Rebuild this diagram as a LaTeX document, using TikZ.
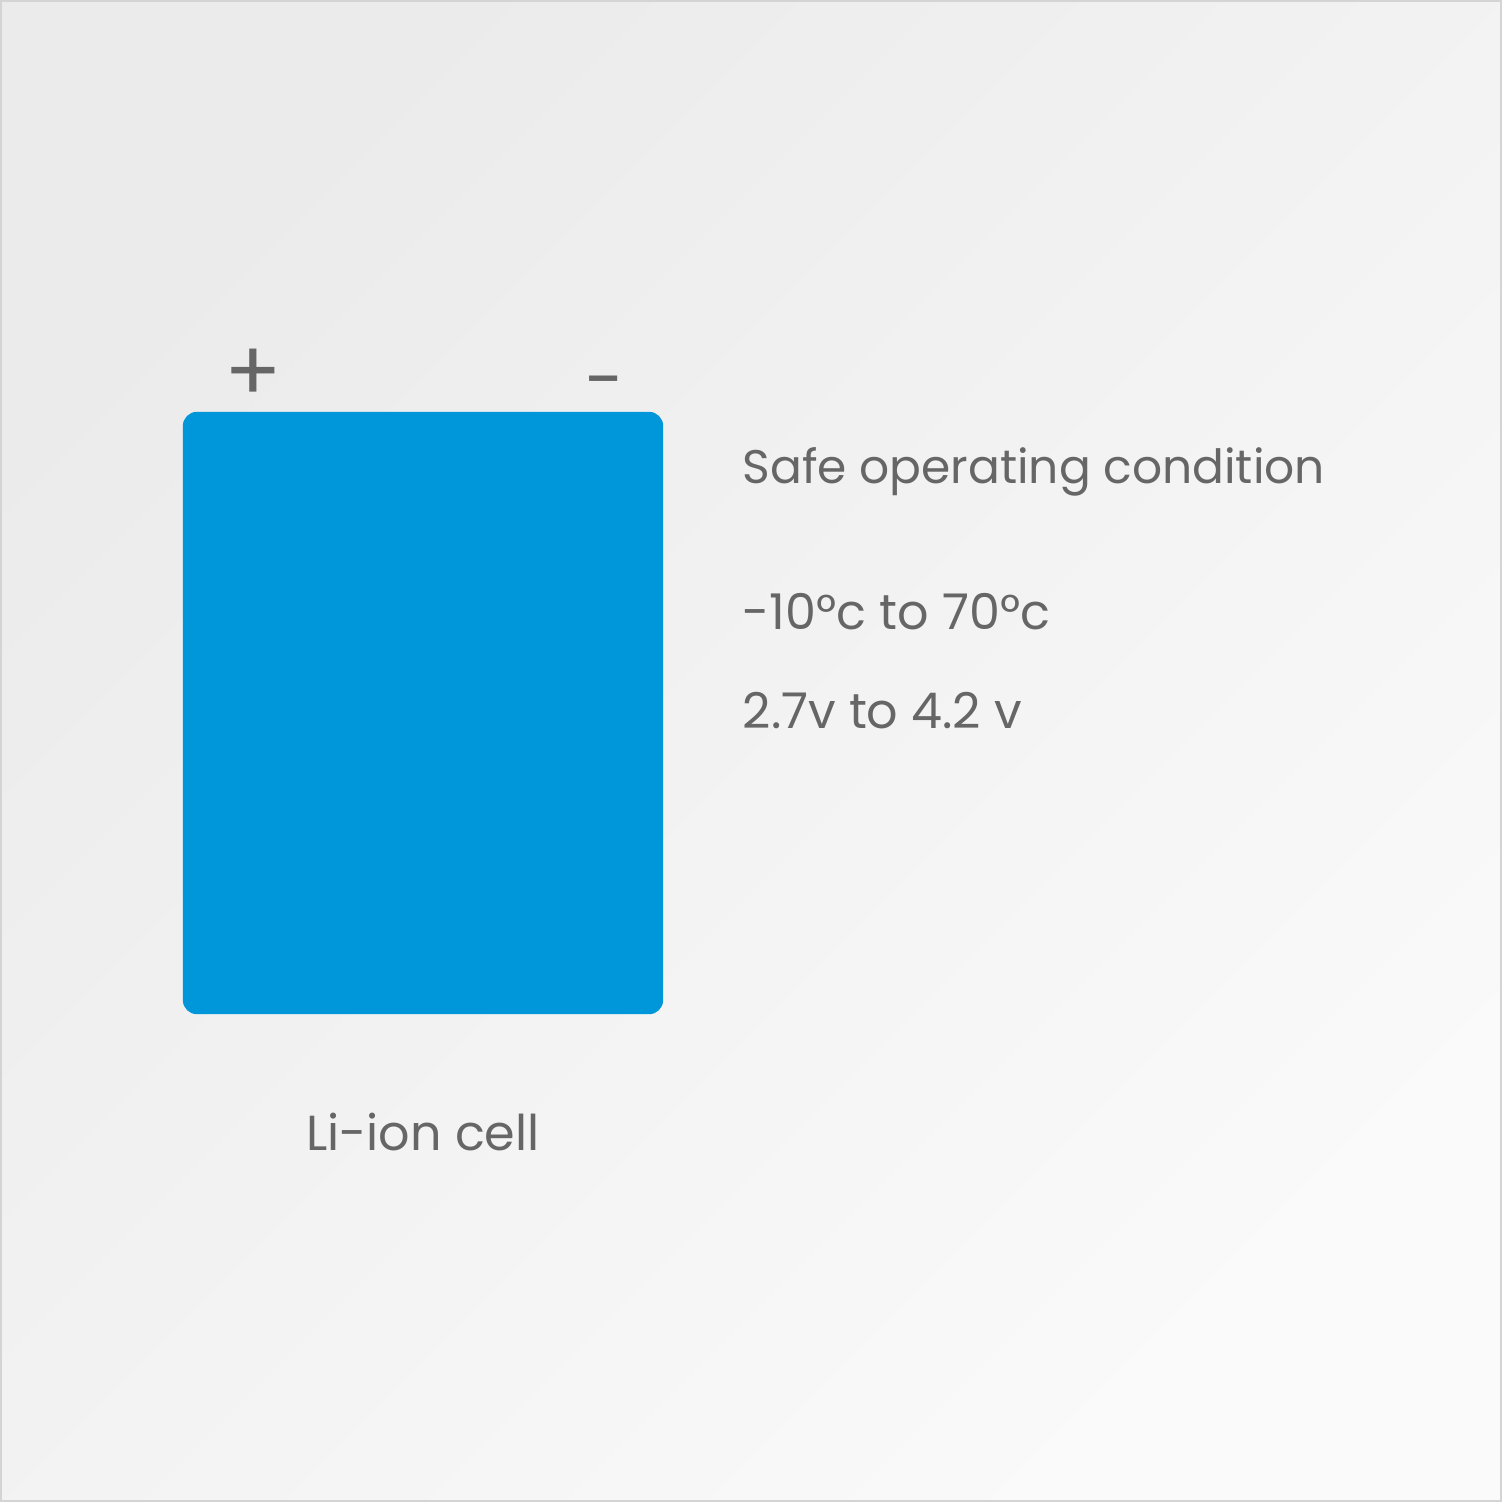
\documentclass[tikz,border=0pt]{standalone}
\usepackage{fontspec}
\setmainfont{Poppins}
\usetikzlibrary{positioning}
\definecolor{cellblue}{HTML}{0096DA}
\definecolor{labelgray}{HTML}{666666}
\definecolor{bgdark}{HTML}{EBEBEB}
\definecolor{bglight}{HTML}{FAFAFA}
\definecolor{framegray}{HTML}{D4D4D4}
\begin{document}
\begin{tikzpicture}[x=0.01cm,y=-0.01cm,
    label/.style={font=\fontsize{14}{16}\selectfont,text=labelgray,inner sep=0pt,anchor=base west},
    terminal/.style={font=\fontsize{24}{26}\selectfont,text=labelgray,inner sep=0pt,anchor=base}]
    % Background and frame
    \useasboundingbox (0,0) rectangle (1502,1502);
    \shade[top color=bgdark,bottom color=bglight,shading angle=45] (0,0) rectangle (1502,1502);
    \draw[framegray,line width=0.6pt] (1,1) rectangle (1501,1501);
    % Cell body and terminals
    \node[fill=cellblue,rounded corners=4pt,minimum width=4.8cm,minimum height=6.02cm,inner sep=0pt] (cell) at (423,713) {};
    \node[terminal] (plus) at (253,401) {+};
    \node[terminal,font=\fontsize{20}{22}\selectfont] (minus) at (605,404) {-};
    % Labels
    \node[label,anchor=base] (caption) at (423,1150) {Li-ion cell};
    \node[label,font=\fontsize{13.4}{16}\selectfont] (title) at (742,483) {Safe operating condition};
    \node[label] (temp) at (742,629) {-10°c to 70°c};
    \node[label] (volt) at (742,728) {2.7v to 4.2 v};
\end{tikzpicture}
\end{document}
